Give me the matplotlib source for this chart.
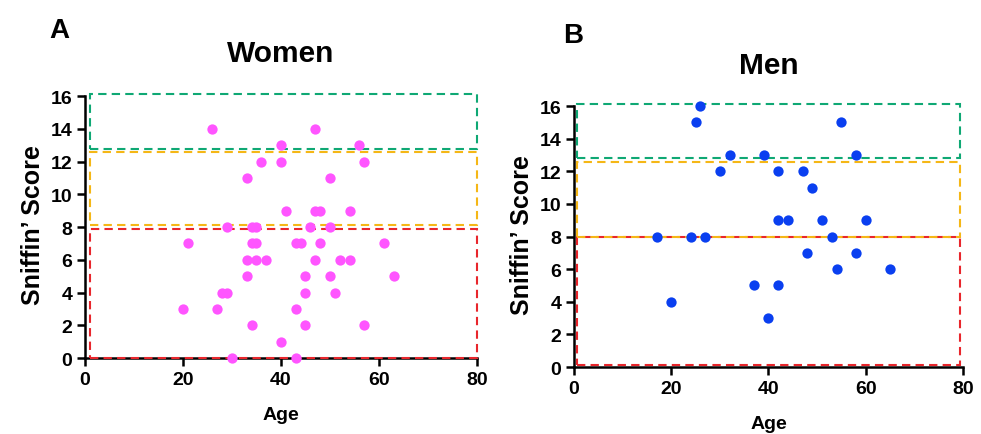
import matplotlib.pyplot as plt
from matplotlib.patches import Rectangle

# Women: age vs Sniffin' score
women_age = [26, 47, 40, 56, 36, 40, 57, 33, 50, 41, 47, 48, 54,
             29, 34, 35, 46, 50, 21, 34, 35, 43, 44, 48, 61,
             33, 35, 37, 47, 52, 54, 33, 45, 50, 63,
             28, 29, 45, 51, 20, 27, 43, 34, 45, 57, 40, 30, 43]
women_score = [14, 14, 13, 13, 12, 12, 12, 11, 11, 9, 9, 9, 9,
               8, 8, 8, 8, 8, 7, 7, 7, 7, 7, 7, 7,
               6, 6, 6, 6, 6, 6, 5, 5, 5, 5,
               4, 4, 4, 4, 3, 3, 3, 2, 2, 2, 1, 0, 0]

# Men
men_age = [26, 25, 55, 32, 39, 58, 30, 42, 47, 49, 42, 44, 51, 60,
           17, 24, 27, 53, 48, 58, 54, 65, 37, 42, 20, 40]
men_score = [16, 15, 15, 13, 13, 13, 12, 12, 12, 11, 9, 9, 9, 9,
             8, 8, 8, 8, 7, 7, 6, 6, 5, 5, 4, 3]

# score bands (x0, x1, y0, y1) as drawn in each panel
women_bands = {'red': (1, 80, 0, 7.9), 'yellow': (1, 80, 8.15, 12.6),
               'green': (1, 80, 12.75, 16.1)}
men_bands = {'red': (0.6, 79.4, 0.1, 8.0), 'yellow': (0.6, 79.4, 8.0, 12.55),
             'green': (0.6, 79.4, 12.8, 16.15)}
band_colors = {'red': '#e8262c', 'yellow': '#f5b716', 'green': '#0fa874'}

plt.rcParams['font.family'] = ['Liberation Sans', 'DejaVu Sans']
plt.rcParams['font.weight'] = 'bold'

fig = plt.figure(figsize=(9.81, 4.35), dpi=100)
ax1 = fig.add_axes([0.0866, 0.1747, 0.3996, 0.6136])
ax2 = fig.add_axes([0.5851, 0.154, 0.3965, 0.611])


def setup(ax, ages, scores, color, bands, title, title_pad):
    for name, (x0, x1, y0, y1) in bands.items():
        ax.add_patch(Rectangle((x0, y0), x1 - x0, y1 - y0, fill=False,
                               edgecolor=band_colors[name], lw=1.5,
                               ls=(0, (4, 2.5)), zorder=3, clip_on=False))
    ax.scatter(ages, scores, s=55, color=color, zorder=4, clip_on=False,
               linewidths=0)
    ax.set_xlim(0, 80)
    ax.set_ylim(0, 16.3)
    ax.set_xticks([0, 20, 40, 60, 80])
    ax.set_yticks(range(0, 17, 2))
    for s in ['top', 'right']:
        ax.spines[s].set_visible(False)
    for s in ['left', 'bottom']:
        ax.spines[s].set_linewidth(1.8)
    ax.spines['left'].set_bounds(0, 16)
    ax.tick_params(width=1.8, length=6, labelsize=14, pad=3)
    for lab in ax.get_xticklabels() + ax.get_yticklabels():
        lab.set_fontweight('bold')
    ax.set_xlabel('Age', fontsize=14, fontweight='bold', labelpad=13)
    ax.set_ylabel('Sniffin\u2019 Score', fontsize=18, fontweight='bold', labelpad=4)
    ax.set_title(title, fontsize=21.5, fontweight='bold', pad=title_pad)


setup(ax1, women_age, women_score, '#ff55ff', women_bands, 'Women', 22)
setup(ax2, men_age, men_score, '#0a3ff0', men_bands, 'Men', 20)

fig.text(0.050, 0.912, 'A', fontsize=20, fontweight='bold')
fig.text(0.574, 0.902, 'B', fontsize=20, fontweight='bold')

fig.savefig('out.png', dpi=100)
